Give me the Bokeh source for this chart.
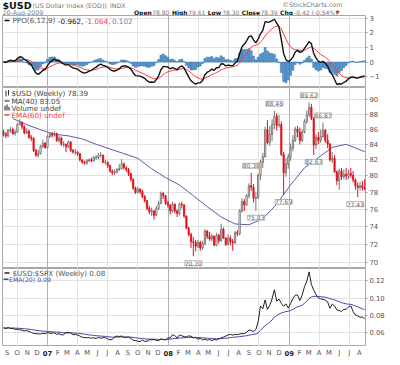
import numpy as np
import pandas as pd
from bokeh.plotting import figure
from bokeh.layouts import column
from bokeh.models import (ColumnDataSource, Range1d, FixedTicker, Grid, LinearScale,
                          LabelSet, NumeralTickFormatter)
from bokeh.core.properties import value
from bokeh.embed import file_html
from bokeh.resources import INLINE

# ---------------- data (weekly, week of Monday) ----------------
first_week = "2006-08-21"
first_open = 85.6

usd_close = [
    85.3, 85.1, 85.8, 85.9, 85.4, 85.6, 86.6, 86.9, 86.3, 85.5, 85.7, 84.9, 84.8, 83.2, 82.6, 82.8, 83.7, 84.1, 83.6,
    85.0, 85.3, 85.2, 85.4, 84.5, 84.8, 84.0, 84.0, 83.7, 84.3, 83.2, 83.0, 83.0, 82.8, 82.0, 81.7, 81.6, 81.9, 82.0, 81.9,
    82.3, 82.3, 82.6, 82.6, 81.7, 81.7, 81.3, 80.6, 80.4, 80.5, 80.8, 80.9, 81.5, 81.0, 80.8, 80.3, 79.6, 78.5, 78.0, 78.4,
    78.1, 77.5, 77.0, 76.1, 75.7, 75.8, 75.3, 76.1, 76.7, 77.9, 77.6, 76.7,
    76.5, 75.8, 76.6, 75.8, 75.5, 76.6, 76.5, 75.2, 73.8, 73.1, 72.3, 72.2, 71.8, 72.2, 71.6, 72.1, 73.5, 72.9, 72.6, 72.9,
    71.9, 73.0, 72.4, 73.7, 72.7, 72.0, 72.7, 72.3, 72.2, 73.3, 73.2, 75.8, 76.9, 76.5, 77.6, 78.8, 78.6, 77.3, 77.4, 80.1,
    81.7, 82.4, 85.9, 84.2, 85.3, 86.6, 87.7, 86.5, 86.6, 82.7, 80.4, 81.5,
    82.4, 83.5, 84.5, 86.0, 85.6, 84.5, 85.6, 87.0, 87.9, 88.9, 87.4, 83.9, 84.9, 84.5, 85.0, 85.8, 84.5, 84.0, 82.0, 82.2,
    80.5, 79.4, 80.6, 79.9, 80.2, 80.0, 80.3, 80.1, 79.5, 78.8, 78.6, 78.8, 78.6, 78.39,
]
usd_high = [
    85.9, 85.6, 86.0, 86.3, 86.2, 85.9, 86.8, 87.3, 87.0, 86.5, 86.1, 85.9, 85.2, 84.9, 83.4, 83.3, 83.9, 84.6, 84.3,
    85.2, 85.6, 85.6, 85.7, 85.5, 85.1, 85.0, 84.4, 84.1, 84.5, 84.4, 83.4, 83.4, 83.1, 82.9, 82.1, 81.9, 82.1, 82.2, 82.3,
    82.5, 82.6, 82.9, 83.0, 82.7, 82.0, 81.8, 81.4, 80.8, 80.8, 81.0, 81.5, 82.1, 81.7, 81.2, 81.0, 80.4, 79.7, 78.7, 78.7,
    78.5, 78.3, 77.7, 77.1, 76.4, 76.2, 75.9, 76.4, 77.0, 78.1, 78.0, 77.7,
    77.0, 76.6, 76.9, 76.7, 76.0, 76.8, 76.9, 76.6, 75.3, 74.0, 73.3, 72.8, 72.5, 72.5, 72.4, 72.4, 73.7, 73.6, 73.4, 73.2,
    73.0, 73.3, 73.2, 74.3, 73.9, 72.8, 73.1, 73.0, 72.6, 73.5, 73.6, 76.0, 77.3, 77.2, 77.8, 79.1, 80.38, 79.0, 78.0, 80.3,
    82.0, 82.9, 86.3, 87.2, 86.4, 87.3, 88.46, 88.1, 87.9, 87.0, 83.0, 82.2,
    82.8, 84.1, 85.2, 86.3, 86.4, 86.2, 85.9, 87.3, 88.5, 89.62, 89.4, 87.6, 85.3, 85.6, 85.9, 86.87, 86.0, 85.3, 84.2, 83.0,
    82.6, 80.7, 80.9, 81.0, 80.8, 81.0, 80.8, 81.0, 80.6, 79.7, 79.2, 79.3, 79.4, 79.61,
]
usd_low = [
    85.0, 84.8, 84.9, 85.5, 85.2, 85.1, 85.5, 86.5, 86.0, 85.3, 85.3, 84.7, 84.4, 83.0, 82.4, 82.3, 82.7, 83.5, 83.4,
    83.5, 84.8, 84.9, 85.0, 84.3, 84.2, 83.8, 83.6, 83.0, 83.5, 83.0, 82.8, 82.6, 82.5, 81.8, 81.5, 81.4, 81.4, 81.7, 81.7,
    81.8, 82.0, 82.1, 82.3, 81.6, 81.4, 81.0, 80.4, 80.1, 80.1, 80.3, 80.6, 80.8, 80.8, 80.5, 80.0, 79.3, 78.3, 77.8, 77.9,
    77.8, 77.3, 76.8, 75.9, 75.4, 75.2, 74.8, 75.2, 75.9, 76.6, 77.2, 76.5,
    76.2, 75.4, 75.6, 75.5, 75.1, 75.3, 76.1, 75.0, 73.7, 72.9, 71.6, 70.70, 71.2, 71.6, 71.3, 71.4, 71.9, 72.6, 72.4, 72.3,
    71.8, 71.8, 72.1, 72.3, 72.6, 71.8, 71.9, 71.9, 71.3, 72.0, 72.9, 73.0, 75.6, 75.8, 76.4, 77.3, 78.2, 76.8, 75.83, 77.2,
    79.5, 81.0, 82.3, 84.0, 83.8, 84.4, 86.0, 85.8, 86.2, 82.5, 77.69, 79.9,
    80.9, 81.9, 83.1, 84.3, 84.9, 84.0, 84.3, 85.4, 86.7, 87.6, 87.2, 82.63, 83.4, 84.0, 84.2, 84.9, 84.2, 83.5, 81.8, 81.6,
    80.4, 78.9, 78.3, 79.5, 79.6, 79.5, 79.6, 79.8, 79.2, 78.3, 77.43, 78.2, 78.2, 78.30,
]
ratio_close = [
    0.0658, 0.0649, 0.0660, 0.0650, 0.0650, 0.0641, 0.0641, 0.0636, 0.0631, 0.0621, 0.0628, 0.0615, 0.0605, 0.0594,
    0.0591, 0.0588, 0.0587, 0.0596, 0.0590,
    0.0603, 0.0597, 0.0595, 0.0601, 0.0583, 0.0590, 0.0577, 0.0579, 0.0603, 0.0601, 0.0600, 0.0578, 0.0584, 0.0574,
    0.0564, 0.0550, 0.0546, 0.0544, 0.0545, 0.0538, 0.0543, 0.0535, 0.0548, 0.0539, 0.0544, 0.0544, 0.0531, 0.0519,
    0.0524, 0.0552, 0.0564, 0.0557, 0.0564, 0.0548, 0.0548, 0.0552, 0.0536, 0.0515, 0.0511, 0.0504, 0.0500, 0.0517,
    0.0502, 0.0504, 0.0521, 0.0520, 0.0523, 0.0514, 0.0510, 0.0531, 0.0523, 0.0519,
    0.0542, 0.0541, 0.0578, 0.0569, 0.0541, 0.0575, 0.0567, 0.0556, 0.0554, 0.0565, 0.0561, 0.0543, 0.0546, 0.0527,
    0.0538, 0.0519, 0.0526, 0.0516, 0.0523, 0.0512, 0.0523, 0.0521, 0.0532, 0.0542, 0.0552, 0.0563, 0.0576, 0.0583,
    0.0573, 0.0583, 0.0580, 0.0585, 0.0592, 0.0592, 0.0605, 0.0634, 0.0628, 0.0616, 0.0638, 0.0728, 0.0909, 0.0877,
    0.0979, 0.0870, 0.0916, 0.0992, 0.1096, 0.0965, 0.0989, 0.0940, 0.0906, 0.0934,
    0.0885, 0.0938, 0.0994, 0.1034, 0.1036, 0.0972, 0.1035, 0.1130, 0.1196, 0.1302, 0.1156, 0.1091, 0.1040, 0.1002,
    0.0992, 0.0986, 0.0976, 0.0958, 0.0883, 0.0931, 0.0908, 0.0864, 0.0857, 0.0845, 0.0871, 0.0871, 0.0896, 0.0911,
    0.0846, 0.0805, 0.0796, 0.0780, 0.0782, 0.0764,
]
# MA(40) at these week numbers
ma40_week = [4, 10, 16, 22, 28, 34, 40, 46, 52, 58, 64, 70, 76, 82, 88, 94, 100, 106, 112, 118, 124, 130, 136, 142, 148, 156]
ma40_value = [87.4, 86.6, 85.9, 85.3, 85.1, 84.7, 84.0, 83.4, 82.8, 82.2, 80.9, 79.8, 78.9, 77.6, 76.3, 75.1, 74.3,
              74.2, 74.9, 76.6, 78.9, 81.0, 82.3, 83.6, 84.0, 83.05]

# annotated highs / lows
hi_week = [107, 117, 132, 138]
hi_text = ["80.38", "88.46", "89.62", "86.87"]
lo_week = [82, 109, 121, 134, 153]
lo_text = ["70.70", "75.83", "77.69", "82.63", "77.43"]

month_labels = ["S", "O", "N", "D", "07", "F", "M", "A", "M", "J", "J", "A", "S", "O", "N", "D",
                "08", "F", "M", "A", "M", "J", "J", "A", "S", "O", "N", "D",
                "09", "F", "M", "A", "M", "J", "J", "A"]
ppo_ticks = [-1, 0, 1, 2, 3]
price_ticks = [70, 72, 74, 76, 78, 80, 82, 84, 86, 88, 90]
ratio_ticks = [0.06, 0.08, 0.10, 0.12]

# ---------------- derived ----------------
FONT = "DejaVu Sans"
W = 392
BL, BR = 2, 27
FW = W - BL - BR
DAY = 86400000

dates = pd.date_range(first_week, periods=len(usd_close), freq="W-MON")
close = np.array(usd_close)
high = np.array(usd_high)
low = np.array(usd_low)
open_ = np.concatenate([[first_open], close[:-1]])
up = close >= open_
RED = "#e3101c"


def ema(x, n):
    a = 2.0 / (n + 1)
    out = np.empty(len(x))
    out[0] = x[0]
    for i in range(1, len(x)):
        out[i] = a * x[i] + (1 - a) * out[i - 1]
    return out


e6, e12 = ema(close, 6), ema(close, 12)
ppo = (e6 - e12) / e12 * 100
sig = ema(ppo, 9)
hist = ppo - sig
ratio = np.array(ratio_close)
ratio_ema = ema(ratio, 20)

src = ColumnDataSource(dict(
    x=dates, h=high, l=low,
    top=np.maximum(open_, close), bot=np.minimum(open_, close),
    fill=np.where(up, "#ffffff", RED), line=np.where(up, "#555555", RED),
    wick=np.where(up, "#777777", RED),
    ppo=ppo, sig=sig, hist=hist, ratio=ratio, rema=ratio_ema))

months = pd.date_range("2006-09-01", periods=len(month_labels), freq="MS")
quarters = pd.date_range("2006-10-01", "2009-07-01", freq="QS")
q_ms = [t.value / 1e6 for t in quarters if t.month != 1]
y_ms = [t.value / 1e6 for t in quarters if t.month == 1]

xr = Range1d(pd.Timestamp("2006-08-18"), pd.Timestamp("2009-08-19 12:00"))


def panel(h, yr, log=False):
    f = figure(width=W, height=h, x_range=xr, y_range=yr, x_axis_type="datetime",
               y_axis_type="log" if log else "linear", x_axis_location=None,
               y_axis_location="right", toolbar_location=None, output_backend="svg",
               min_border=0, min_border_left=BL, min_border_right=BR,
               outline_line_color="#a8a8a8", background_fill_color="white",
               border_fill_color="white")
    f.xgrid.visible = False
    f.ygrid.grid_line_color = "#e2e2e2"
    f.add_layout(Grid(dimension=0, ticker=FixedTicker(ticks=q_ms), grid_line_color="#e2e2e2"))
    f.add_layout(Grid(dimension=0, ticker=FixedTicker(ticks=y_ms), grid_line_color="#b0b0b0"))
    ax = f.yaxis[0]
    ax.axis_line_color = None
    ax.major_tick_line_color = "#999999"
    ax.major_tick_out = 2
    ax.major_tick_in = 0
    ax.minor_tick_line_color = None
    ax.major_label_text_font = FONT
    ax.major_label_text_font_size = "6.8px"
    ax.major_label_text_color = "#555555"
    ax.major_label_standoff = 2
    f.extra_x_ranges = {"px": Range1d(0, FW)}
    f.extra_y_ranges = {"py": Range1d(h, 0)}
    f.extra_y_scales = {"py": LinearScale()}
    return f


def ptext(f, x, y, txt, color="#444444", size="7.2px", bold=False):
    f.text(x=[x], y=[y], text=[txt], x_range_name="px", y_range_name="py",
           text_font=value(FONT), text_font_size=size, text_color=color,
           text_baseline="middle", text_align="left",
           text_font_style="bold" if bold else "normal")


def pseg(f, x0, y0, x1, y1, color, w=1.5):
    f.segment(x0=[x0], y0=[y0], x1=[x1], y1=[y1], x_range_name="px", y_range_name="py",
              line_color=color, line_width=w)


# ---------------- header ----------------
f0 = figure(width=W, height=15, x_range=Range1d(0, W), y_range=Range1d(15, 0),
            x_axis_location=None, y_axis_location=None, toolbar_location=None,
            output_backend="svg", min_border=0, outline_line_color=None)
f0.grid.visible = False


def htext(x, y, txt, color="#777777", size="6px", bold=False, align="left"):
    f0.text(x=[x], y=[y], text=[txt], text_font=value(FONT), text_font_size=size,
            text_color=color, text_baseline="middle", text_align=align,
            text_font_style="bold" if bold else "normal")


htext(0, 4.8, "$USD", color="#111111", size="9.5px", bold=True)
htext(32.5, 4.8, "(US Dollar Index (EOD))", size="6.3px")
htext(116, 4.8, "INDX", size="6.3px")
htext(367, 4.3, "\u00a9StockCharts.com", size="6.3px", align="right")
htext(0, 11.9, "20-Aug-2009", size="6.3px")
for x, t in [(142, "Open"), (183, "High"), (221.7, "Low"), (258.4, "Close"), (299.8, "Chg")]:
    htext(x, 11.9, t, color="#111111", bold=True)
for x, t in [(161.7, "78.80"), (200.5, "79.61"), (237.2, "78.30"), (278.6, "78.39"), (314.8, "-0.42 (-0.54%)")]:
    htext(x, 11.9, t)
htext(360, 11.9, "\u25bc", color="#cc2222", size="5px")

# ---------------- PPO panel ----------------
f1 = panel(72, Range1d(-1.75, 3.2))
f1.yaxis.ticker = FixedTicker(ticks=ppo_ticks)
f1.vbar(x="x", top="hist", bottom=0, width=6 * DAY, source=src,
        fill_color="#5b9bd5", line_color="#2a6aa5", line_width=0.5)
f1.line("x", "sig", source=src, line_color="#ff3b3b", line_width=1)
f1.line("x", "ppo", source=src, line_color="#111111", line_width=1.4)
pseg(f1, 2, 5, 7, 5, "#111111")
ptext(f1, 10, 5, "PPO(6,12,9)", color="#555555")
ptext(f1, 55.5, 5, "-0.962,", color="#111111")
ptext(f1, 82.5, 5, "-1.064,", color="#ff3b3b")
ptext(f1, 109.5, 5, "0.102", color="#4a8fd0")

# ---------------- price panel ----------------
f2 = panel(181, Range1d(69.37, 91.68), log=True)
f2.yaxis.ticker = FixedTicker(ticks=price_ticks)
f2.yaxis.formatter = NumeralTickFormatter(format="0")
f2.line(x=dates[ma40_week], y=ma40_value, line_color="#5b5ea6", line_width=1)
f2.segment(x0="x", y0="l", x1="x", y1="h", source=src, line_color="wick", line_width=1)
f2.vbar(x="x", top="top", bottom="bot", width=4 * DAY, source=src,
        fill_color="fill", line_color="line", line_width=0.7)

hi_src = ColumnDataSource(dict(x=dates[hi_week], y=high[hi_week], t=hi_text))
lo_src = ColumnDataSource(dict(x=dates[lo_week], y=low[lo_week], t=lo_text,
                               dx=[0, 0, 0, 0, -2.5]))
label_style = dict(text_align="center", text_baseline="middle",
                   text_font=value(FONT), text_font_size="6px", text_color="#666666",
                   background_fill_color="white", border_line_color="#bbbbbb",
                   border_line_width=1)
f2.add_layout(LabelSet(x="x", y="y", text="t", source=hi_src, y_offset=7, **label_style))
f2.add_layout(LabelSet(x="x", y="y", text="t", source=lo_src, y_offset=-7, x_offset="dx", **label_style))

# legend
pseg(f2, 3.5, 3, 3.5, 9, "#333333", 1)
pseg(f2, 6, 2.5, 6, 8, "#333333", 1)
ptext(f2, 9, 6, "$USD (Weekly) 78.39")
pseg(f2, 2, 13.5, 7, 13.5, "#5b5ea6")
ptext(f2, 9, 13.5, "MA(40) 83.05")
for bx, bt in [(2.5, 18.5), (4.5, 17), (6.5, 19.5)]:
    pseg(f2, bx, bt, bx, 23, "#555555", 1.4)
ptext(f2, 9, 20.5, "Volume undef")
pseg(f2, 2, 27.5, 7, 27.5, "#ff4444")
ptext(f2, 9, 27.5, "EMA(60) undef", color="#ff4444")

# ---------------- ratio panel ----------------
f3 = panel(78, Range1d(0.0443, 0.1341))
f3.yaxis.ticker = FixedTicker(ticks=ratio_ticks)
f3.yaxis.formatter = NumeralTickFormatter(format="0.00")
f3.line("x", "rema", source=src, line_color="#4646a8", line_width=1)
f3.line("x", "ratio", source=src, line_color="#222222", line_width=1)
pseg(f3, 2, 4.5, 7, 4.5, "#222222")
ptext(f3, 10, 4.5, "$USD:$SPX (Weekly) 0.08", color="#555555")
pseg(f3, 1, 10.8, 6, 10.8, "#4646a8")
ptext(f3, 6.5, 10.8, "EMA(20) 0.09", color="#4646a8", size="6.2px")

# ---------------- month labels ----------------
f4 = figure(width=W, height=11, x_range=xr, y_range=Range1d(11, 0), x_axis_type="datetime",
            x_axis_location=None, y_axis_location=None, toolbar_location=None,
            output_backend="svg", min_border=0, min_border_left=BL, min_border_right=BR,
            outline_line_color=None)
f4.grid.visible = False
is_year = np.array([len(m) == 2 for m in month_labels])
ml = np.array(month_labels)
f4.text(x=months[~is_year], y=[5.5] * int((~is_year).sum()), text=list(ml[~is_year]),
        text_font=value(FONT), text_font_size="6.8px", text_color="#555555",
        text_align="center", text_baseline="middle")
f4.text(x=months[is_year], y=[5.5] * int(is_year.sum()), text=list(ml[is_year]),
        text_font=value(FONT), text_font_size="6.8px", text_color="#222222",
        text_align="center", text_baseline="middle", text_font_style="bold")

layout = column(f0, f1, f2, f3, f4, spacing=0)
open("out.html", "w").write(file_html(layout, INLINE))
